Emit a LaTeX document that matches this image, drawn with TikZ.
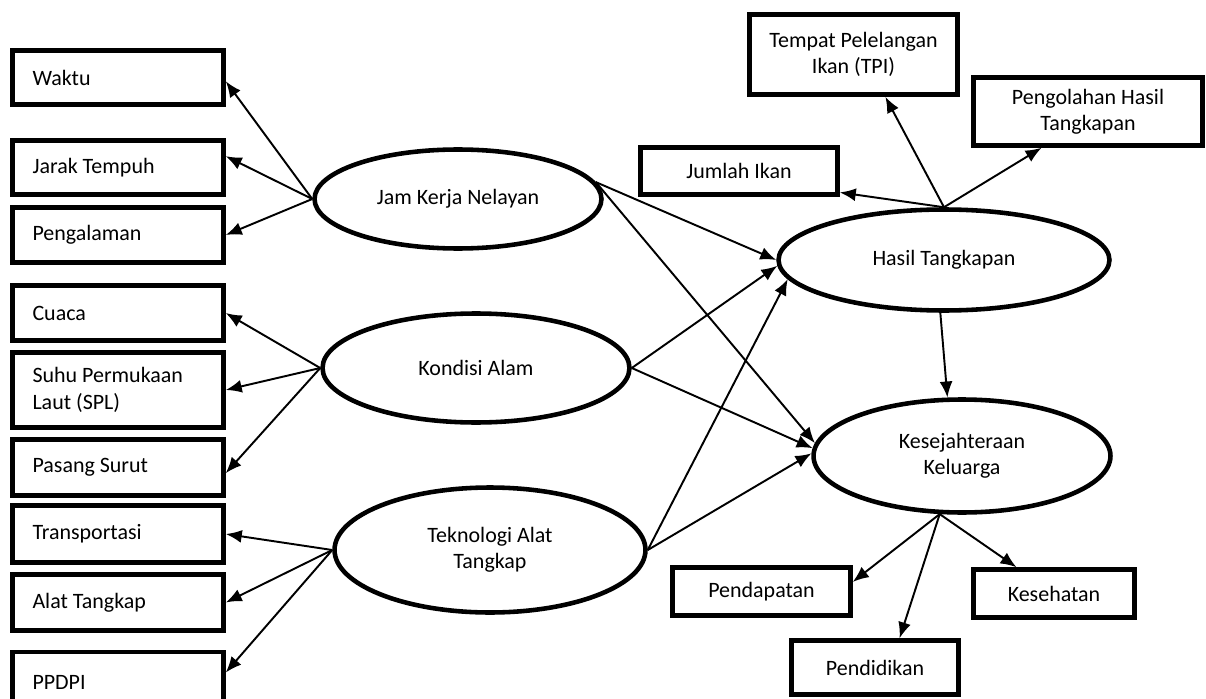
\documentclass[tikz,border=0pt]{standalone}
\usepackage{fontspec}
\setmainfont{Carlito}
\usetikzlibrary{arrows.meta,shapes.geometric}
\tikzset{arrow/.style={-{Latex[length=3.2mm,width=2.6mm]}, line width=1.1pt}}
\tikzset{item/.style={draw, line width=2.6pt, minimum width=4.22cm, text width=3.42cm, inner xsep=0.4cm, align=flush left}}
\tikzset{ind/.style={draw, line width=2.6pt, align=center}}
\tikzset{latent/.style={draw, ellipse, line width=2.6pt, align=center}}

\begin{document}
\begin{tikzpicture}[x=0.02cm, y=-0.02cm, font=\fontsize{12.5}{15}\selectfont]
    \useasboundingbox (0,0) rectangle (1206,699);
    % indikator kiri
    \node[item, minimum height=1.08cm] (waktu) at (118,77.5) {Waktu};
    \node[item, minimum height=1.08cm] (jarak) at (118,167.5) {Jarak Tempuh};
    \node[item, minimum height=1.1cm] (pengalaman) at (118,235) {Pengalaman};
    \node[item, minimum height=1.1cm] (cuaca) at (118,313) {Cuaca};
    \node[item, minimum height=1.5cm] (suhu) at (118,390) {Suhu Permukaan\\Laut (SPL)};
    \node[item, minimum height=1.12cm] (pasang) at (118,467.5) {Pasang Surut};
    \node[item, minimum height=1.14cm] (transportasi) at (118,534) {Transportasi};
    \node[item, minimum height=1.12cm] (alat) at (118,602.5) {Alat Tangkap};
    \node[item, minimum height=1.2cm] (ppdpi) at (118,682) {PPDPI};
    % variabel laten
    \node[latent, minimum width=5.74cm, minimum height=1.98cm] (jam) at (458,199) {Jam Kerja Nelayan};
    \node[latent, minimum width=6.14cm, minimum height=2.18cm] (kondisi) at (476,368) {Kondisi Alam};
    \node[latent, minimum width=6.22cm, minimum height=2.5cm] (teknologi) at (490,550) {Teknologi Alat\\Tangkap};
    \node[latent, minimum width=6.62cm, minimum height=2.02cm] (hasil) at (944,260) {Hasil Tangkapan};
    \node[latent, minimum width=5.94cm, minimum height=2.26cm] (kesejahteraan) at (962,456) {Kesejahteraan\\Keluarga};
    % indikator kanan
    \node[ind, minimum width=4.16cm, minimum height=1.6cm] (tpi) at (853.5,54.5) {Tempat Pelelangan\\Ikan (TPI)};
    \node[ind, minimum width=4.58cm, minimum height=1.36cm] (pengolahan) at (1088,111.5) {Pengolahan Hasil\\Tangkapan};
    \node[ind, minimum width=3.94cm, minimum height=0.94cm] (jumlah) at (739,171) {Jumlah Ikan};
    \node[ind, minimum width=3.56cm, minimum height=0.96cm] (pendapatan) at (761.5,591.5) {Pendapatan};
    \node[ind, minimum width=3.22cm, minimum height=0.96cm] (kesehatan) at (1054,593.5) {Kesehatan};
    \node[ind, minimum width=3.34cm, minimum height=1.08cm] (pendidikan) at (875,667.5) {Pendidikan};
    % panah
    \draw[arrow] (jam.west) -- (waktu.-2);
    \draw[arrow] (jam.west) -- (jarak.6);
    \draw[arrow] (jam.west) -- (pengalaman.east);
    \draw[arrow] (kondisi.west) -- (cuaca.east);
    \draw[arrow] (kondisi.west) -- (suhu.east);
    \draw[arrow] (kondisi.west) -- (pasang.-3);
    \draw[arrow] (teknologi.west) -- (transportasi.east);
    \draw[arrow] (teknologi.west) -- (alat.east);
    \draw[arrow] (teknologi.west) -- (ppdpi.5);
    \draw[arrow] (jam.7) -- (hasil.west);
    \draw[arrow] (jam.7) -- (kesejahteraan.175);
    \draw[arrow] (kondisi.east) -- (hasil.182);
    \draw[arrow] (kondisi.east) -- (kesejahteraan.177);
    \draw[arrow] (teknologi.east) -- (hasil.187);
    \draw[arrow] (teknologi.east) -- (kesejahteraan.179);
    \draw[arrow] (hasil.266) -- (kesejahteraan.104);
    \draw[arrow] (hasil.north) -- (jumlah.-12);
    \draw[arrow] (hasil.north) -- (tpi.-53);
    \draw[arrow] (hasil.north) -- (pengolahan.218);
    \draw[arrow] (kesejahteraan.249) -- (pendapatan.6);
    \draw[arrow] (kesejahteraan.249) -- (pendidikan.50);
    \draw[arrow] (kesejahteraan.249) -- (kesehatan.145);
\end{tikzpicture}
\end{document}
